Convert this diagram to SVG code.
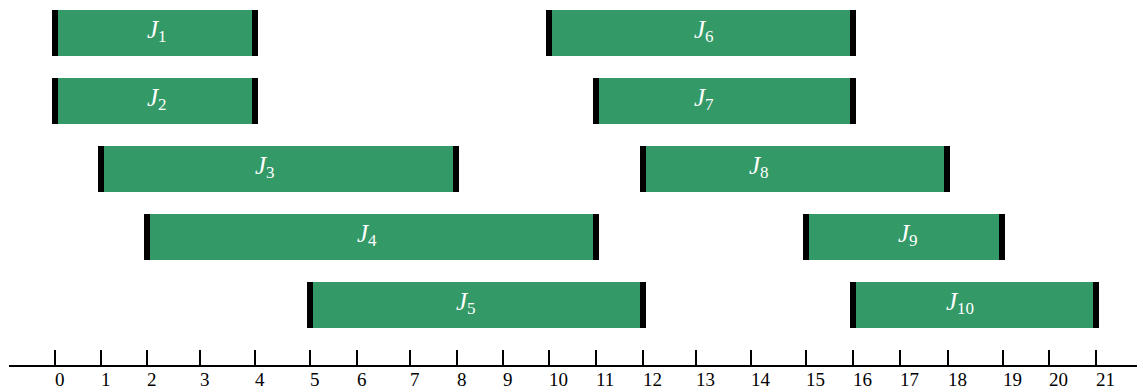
<svg xmlns="http://www.w3.org/2000/svg" width="1137" height="390" viewBox="0 0 1137 390">
<style>
.bar{fill:#339966}
.end{fill:#000}
.lbl{font-family:"Liberation Serif","Times New Roman",serif;font-size:25px;font-style:italic;fill:#fff}
.sub{font-style:normal;font-size:17px}
.tick{stroke:#000;stroke-width:2}
.num{font-family:"Liberation Serif","Times New Roman",serif;font-size:19px;fill:#000}
</style>
<g id="J1"><rect class="bar" x="55" y="10" width="200" height="46"/><rect class="end" x="52" y="10" width="6" height="46"/><rect class="end" x="252" y="10" width="6" height="46"/><text class="lbl" x="147" y="38">J<tspan class="sub" dy="4">1</tspan></text></g>
<g id="J2"><rect class="bar" x="55" y="78" width="200" height="46"/><rect class="end" x="52" y="78" width="6" height="46"/><rect class="end" x="252" y="78" width="6" height="46"/><text class="lbl" x="147" y="106">J<tspan class="sub" dy="4">2</tspan></text></g>
<g id="J3"><rect class="bar" x="101" y="146" width="355" height="46"/><rect class="end" x="98" y="146" width="6" height="46"/><rect class="end" x="453" y="146" width="6" height="46"/><text class="lbl" x="255" y="174">J<tspan class="sub" dy="4">3</tspan></text></g>
<g id="J4"><rect class="bar" x="147" y="214" width="449" height="46"/><rect class="end" x="144" y="214" width="6" height="46"/><rect class="end" x="593" y="214" width="6" height="46"/><text class="lbl" x="357" y="242">J<tspan class="sub" dy="4">4</tspan></text></g>
<g id="J5"><rect class="bar" x="310" y="282" width="333" height="46"/><rect class="end" x="307" y="282" width="6" height="46"/><rect class="end" x="640" y="282" width="6" height="46"/><text class="lbl" x="456" y="310">J<tspan class="sub" dy="4">5</tspan></text></g>
<g id="J6"><rect class="bar" x="549" y="10" width="304" height="46"/><rect class="end" x="546" y="10" width="6" height="46"/><rect class="end" x="850" y="10" width="6" height="46"/><text class="lbl" x="694" y="38">J<tspan class="sub" dy="4">6</tspan></text></g>
<g id="J7"><rect class="bar" x="596" y="78" width="257" height="46"/><rect class="end" x="593" y="78" width="6" height="46"/><rect class="end" x="850" y="78" width="6" height="46"/><text class="lbl" x="694" y="106">J<tspan class="sub" dy="4">7</tspan></text></g>
<g id="J8"><rect class="bar" x="643" y="146" width="304" height="46"/><rect class="end" x="640" y="146" width="6" height="46"/><rect class="end" x="944" y="146" width="6" height="46"/><text class="lbl" x="749" y="174">J<tspan class="sub" dy="4">8</tspan></text></g>
<g id="J9"><rect class="bar" x="806" y="214" width="196" height="46"/><rect class="end" x="803" y="214" width="6" height="46"/><rect class="end" x="999" y="214" width="6" height="46"/><text class="lbl" x="898" y="242">J<tspan class="sub" dy="4">9</tspan></text></g>
<g id="J10"><rect class="bar" x="853" y="282" width="243" height="46"/><rect class="end" x="850" y="282" width="6" height="46"/><rect class="end" x="1093" y="282" width="6" height="46"/><text class="lbl" x="946" y="310">J<tspan class="sub" dy="4">10</tspan></text></g>
<g id="axis">
<line x1="9" y1="366" x2="1137" y2="366" stroke="#000" stroke-width="2"/>
<g class="tick">
<line x1="55" y1="350" x2="55" y2="366"/><line x1="101" y1="350" x2="101" y2="366"/><line x1="147" y1="350" x2="147" y2="366"/><line x1="200" y1="350" x2="200" y2="366"/><line x1="255" y1="350" x2="255" y2="366"/><line x1="310" y1="350" x2="310" y2="366"/><line x1="357" y1="350" x2="357" y2="366"/><line x1="410" y1="350" x2="410" y2="366"/><line x1="457" y1="350" x2="457" y2="366"/><line x1="503" y1="350" x2="503" y2="366"/><line x1="549" y1="350" x2="549" y2="366"/><line x1="596" y1="350" x2="596" y2="366"/><line x1="643" y1="350" x2="643" y2="366"/><line x1="696" y1="350" x2="696" y2="366"/><line x1="751" y1="350" x2="751" y2="366"/><line x1="806" y1="350" x2="806" y2="366"/><line x1="853" y1="350" x2="853" y2="366"/><line x1="900" y1="350" x2="900" y2="366"/><line x1="948" y1="350" x2="948" y2="366"/><line x1="1003" y1="350" x2="1003" y2="366"/><line x1="1049" y1="350" x2="1049" y2="366"/><line x1="1096" y1="350" x2="1096" y2="366"/>
</g>
<g class="num">
<text x="55" y="386">0</text><text x="101" y="386">1</text><text x="147" y="386">2</text><text x="200" y="386">3</text><text x="255" y="386">4</text><text x="310" y="386">5</text><text x="357" y="386">6</text><text x="410" y="386">7</text><text x="457" y="386">8</text><text x="503" y="386">9</text><text x="549" y="386">10</text><text x="596" y="386">11</text><text x="643" y="386">12</text><text x="696" y="386">13</text><text x="751" y="386">14</text><text x="806" y="386">15</text><text x="853" y="386">16</text><text x="900" y="386">17</text><text x="948" y="386">18</text><text x="1003" y="386">19</text><text x="1049" y="386">20</text><text x="1096" y="386">21</text>
</g>
</g>
</svg>
